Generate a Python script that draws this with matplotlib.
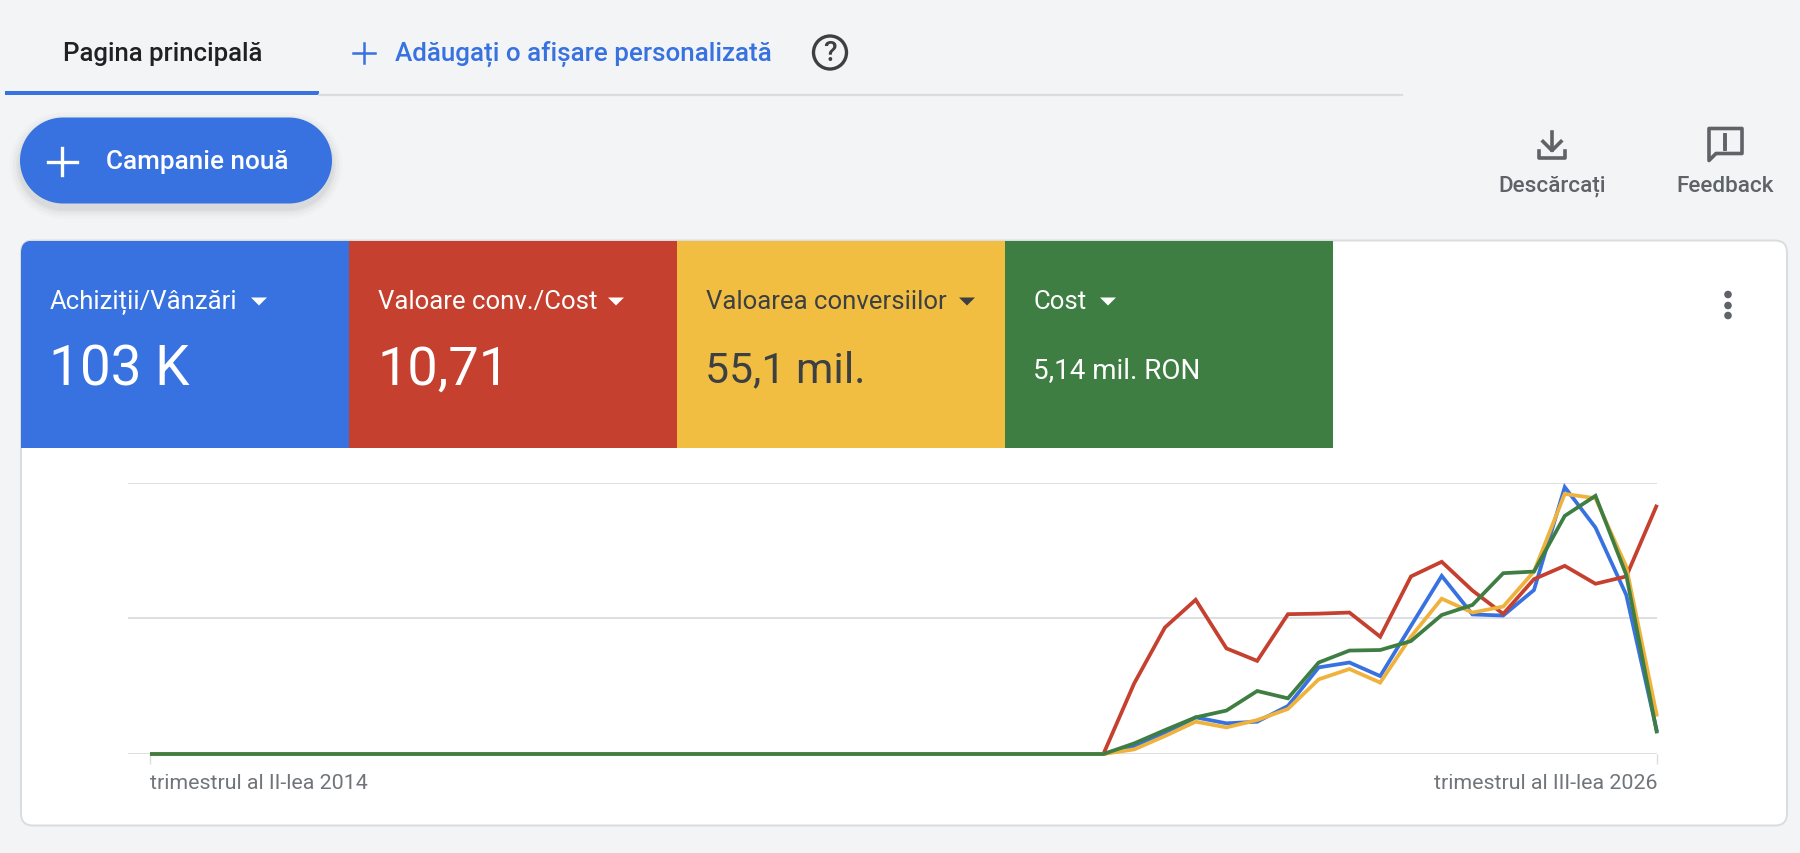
"""Google Ads overview panel: tabs, score tiles and the four-line chart"""
import numpy as np
import matplotlib
matplotlib.use('Agg')
import matplotlib.pyplot as plt
from matplotlib.patches import FancyBboxPatch, Rectangle, Circle, Polygon

plt.rcParams['font.family'] = ['Roboto', 'DejaVu Sans']

W, H = 1800, 854
SHIFT = 1.5  # everything sits a touch lower than the first estimate

# chart values, as percent of the top gridline, one per quarter
tick_labels = ['trimestrul al II-lea 2014', 'trimestrul al III-lea 2026']
purchases = [0, 0, 0, 0, 0, 0, 0, 0, 0, 0, 0, 0, 0, 0, 0, 0, 0, 0, 0, 0, 0, 0, 0, 0, 0, 0, 0, 0, 0, 0, 0,
             0, 2.9, 7.6, 13.5, 11.3, 11.9, 17.7, 31.9, 33.7, 28.7, 47.2, 65.6, 51.4, 51.0, 60.4, 98.3, 83.4, 58.6, 8.2]
roas = [0, 0, 0, 0, 0, 0, 0, 0, 0, 0, 0, 0, 0, 0, 0, 0, 0, 0, 0, 0, 0, 0, 0, 0, 0, 0, 0, 0, 0, 0, 0,
        0, 26.0, 46.6, 56.8, 38.9, 34.3, 51.5, 51.7, 52.1, 43.2, 65.4, 70.8, 60.2, 51.6, 64.4, 69.3, 62.7, 65.4, 91.8]
conv_value = [0, 0, 0, 0, 0, 0, 0, 0, 0, 0, 0, 0, 0, 0, 0, 0, 0, 0, 0, 0, 0, 0, 0, 0, 0, 0, 0, 0, 0, 0, 0,
              0, 1.7, 6.6, 11.9, 9.8, 12.5, 16.6, 27.5, 31.3, 26.3, 43.2, 57.2, 52.1, 54.3, 67.2, 95.8, 94.2, 69.0, 13.8]
cost = [0, 0, 0, 0, 0, 0, 0, 0, 0, 0, 0, 0, 0, 0, 0, 0, 0, 0, 0, 0, 0, 0, 0, 0, 0, 0, 0, 0, 0, 0, 0,
        0, 3.9, 8.8, 13.5, 16.0, 23.2, 20.5, 33.7, 38.1, 38.3, 41.6, 51.2, 54.9, 66.6, 67.2, 87.7, 95.1, 66.0, 7.6]

# tiles
tile_titles = ['Achiziții/Vânzări', 'Valoare conv./Cost', 'Valoarea conversiilor', 'Cost']
tile_values = ['103 K', '10,71', '55,1 mil.', '5,14 mil. RON']

BLUE = '#3871E0'
RED = '#C5402E'
YELLOW = '#F2BE42'
GREEN = '#3E7E43'
BG = '#F2F4F6'
GRAY = '#5F6368'
DARK = '#3C4043'

fig = plt.figure(figsize=(W / 100, H / 100), dpi=100, facecolor=BG)

# whole-page axes in screen pixels, y going down
ui = fig.add_axes([0, 0, 1, 1], zorder=1)
ui.set_xlim(0, W)
ui.set_ylim(H - SHIFT, -SHIFT)
ui.axis('off')


def rounded(x0, y0, x1, y1, r, **kw):
    p = FancyBboxPatch((x0, y0), x1 - x0, y1 - y0, boxstyle=f'round,pad=0,rounding_size={r}', **kw)
    ui.add_patch(p)
    return p


def pill(x0, y0, x1, y1, **kw):
    # FancyBboxPatch corners come out too square for a full pill
    r = (y1 - y0) / 2
    t = np.linspace(-np.pi / 2, np.pi / 2, 40)
    xs = np.r_[x1 - r + r * np.cos(t), x0 + r - r * np.cos(t)]
    ys = np.r_[y0 + r + r * np.sin(t), y0 + r - r * np.sin(t)]
    ui.add_patch(Polygon(np.c_[xs, ys], closed=True, **kw))


# tabs
ui.text(63, 52, 'Pagina principală', fontsize=18.5, color='#202124', va='center', weight='medium')
ui.plot([319, 1402], [94, 94], color='#DADCE0', lw=1.6)
ui.add_patch(Rectangle((5, 90), 314, 4.2, fc=BLUE, ec='none'))
ui.plot([364, 364], [42, 62], color=BLUE, lw=1.8)
ui.plot([353, 375], [52, 52], color=BLUE, lw=1.8)
ui.text(395, 52, 'Adăugați o afișare personalizată', fontsize=18.7, color=BLUE, va='center', weight='medium')
ui.add_patch(Circle((830, 52), 16.5, fc='none', ec=DARK, lw=2.4))
ui.text(830, 52, '?', fontsize=20, color=DARK, ha='center', va='center', weight='medium')

# new campaign button with a soft shadow
for grow, alpha in zip([10, 7, 4, 2], [0.02, 0.03, 0.04, 0.05]):
    pill(20 - grow, 117 + 5 - grow, 332 + grow, 203 + 5 + grow, fc='#3C4043', ec='none', alpha=alpha)
pill(20, 117, 332, 203, fc=BLUE, ec='none')
ui.plot([62, 62], [147, 174], color='white', lw=2.4)
ui.plot([48, 77], [161, 161], color='white', lw=2.4)
ui.text(106, 161, 'Campanie nouă', fontsize=18.8, color='white', va='center', weight='medium')

# download icon
ui.plot([1552, 1552], [131, 149], color=GRAY, lw=2.6)
ui.plot([1543, 1552, 1561], [141, 150, 141], color=GRAY, lw=2.6)
ui.plot([1539, 1539, 1565, 1565], [150, 157, 157, 150], color=GRAY, lw=2.6)
ui.text(1552, 185, 'Descărcați', fontsize=16.2, color=GRAY, ha='center', va='center', weight='medium')

# feedback icon
ui.add_patch(Polygon([(1709, 128), (1742, 128), (1742, 153), (1716, 153), (1709, 160)],
                     closed=True, fc='none', ec=GRAY, lw=2.6, joinstyle='round'))
ui.plot([1725, 1725], [134, 142], color=GRAY, lw=2.8)
ui.plot([1725, 1725], [145, 148], color=GRAY, lw=2.8)
ui.text(1725, 185, 'Feedback', fontsize=16.2, color=GRAY, ha='center', va='center', weight='medium')

# card
card = rounded(21, 240, 1787, 825, 12, fc='white', ec='#DADCE0', lw=1.4)

# score tiles
tile_x = [21, 349, 677, 1005]
tile_colors = [BLUE, RED, YELLOW, GREEN]
text_colors = ['white', 'white', DARK, 'white']
arrow_x = [259, 616, 967, 1108]
value_sizes = [39.5, 39, 30.8, 20]
for x, title, value, fc, tc, ax_, vs in zip(tile_x, tile_titles, tile_values, tile_colors, text_colors,
                                            arrow_x, value_sizes):
    tile = Rectangle((x, 240), 328, 207, fc=fc, ec='none')
    ui.add_patch(tile)
    tile.set_clip_path(card)
    ui.text(x + 28.5, 301, title, fontsize=18.5, color=tc, va='center')
    ui.add_patch(Polygon([(ax_ - 8, 297), (ax_ + 8, 297), (ax_, 305)], closed=True, fc=tc, ec='none'))
    ui.text(x + 28, 369, value, fontsize=vs, color=tc, va='center')

# three dots menu
for y in [294, 305, 315]:
    ui.add_patch(Circle((1728, y), 3.8, fc=GRAY, ec='none'))

# line chart
left, right, bottom, top = 128, 1657, 754 + SHIFT - 0.5, 483 + SHIFT - 1
ax = fig.add_axes([left / W, 1 - bottom / H, (right - left) / W, (bottom - top) / H], zorder=2)
ax.patch.set_alpha(0)
quarters = np.arange(len(cost))
for series, color in zip([purchases, roas, conv_value, cost], [BLUE, RED, '#EFB23C', GREEN]):
    ax.plot(quarters, series, color=color, lw=2.7, solid_joinstyle='miter', solid_capstyle='butt', clip_on=False)
ax.set_xlim(-(150 - left) / ((right - 150) / 49), 49)
ax.set_ylim(0, 100)
ax.set_yticks([0, 50, 100])
ax.set_yticklabels([])
ax.grid(axis='y', color='#DADCE0', lw=1.3)
ax.set_axisbelow(True)
ax.tick_params(axis='y', length=0)
ax.set_xticks([0, 49])
ax.set_xticklabels(tick_labels, fontsize=15.4, color='#70757A')
ax.get_xticklabels()[0].set_ha('left')
ax.get_xticklabels()[1].set_ha('right')
ax.tick_params(axis='x', length=7, width=1, color='#DADCE0', pad=7)
for s in ax.spines.values():
    s.set_visible(False)

plt.savefig('out.png', dpi=100, facecolor=BG)
plt.close()
